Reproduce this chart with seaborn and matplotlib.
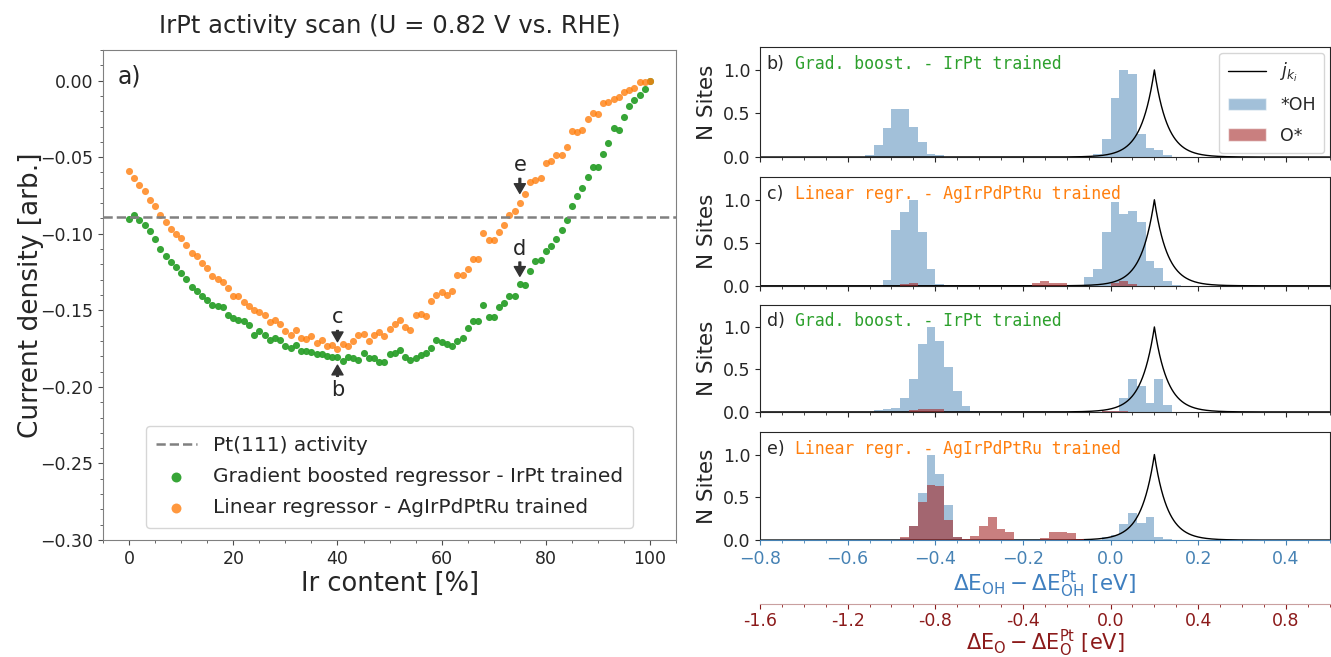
import numpy as np
import pandas as pd
import matplotlib
matplotlib.use("Agg")
import matplotlib.pyplot as plt
import seaborn as sns
from matplotlib.lines import Line2D
from matplotlib.patches import Patch
from matplotlib.ticker import MultipleLocator, FuncFormatter

sns.set_style("ticks")
plt.rcParams["font.family"] = ["DejaVu Sans"]

# ---------------- activity scan data ----------------
ir_content = list(range(101))
gb_current = [
    -0.0902, -0.0880, -0.0913, -0.0941, -0.0985, -0.1035, -0.1099, -0.1143, -0.1186, -0.1215,
    -0.1254, -0.1298, -0.1348, -0.1372, -0.1405, -0.1431, -0.1466, -0.1475, -0.1479, -0.1528,
    -0.1550, -0.1561, -0.1571, -0.1597, -0.1661, -0.1635, -0.1661, -0.1696, -0.1681, -0.1696,
    -0.1731, -0.1747, -0.1725, -0.1764, -0.1768, -0.1773, -0.1786, -0.1788, -0.1797, -0.1804,
    -0.1808, -0.1832, -0.1808, -0.1810, -0.1823, -0.1777, -0.1810, -0.1814, -0.1836, -0.1836,
    -0.1784, -0.1779, -0.1758, -0.1806, -0.1823, -0.1810, -0.1791, -0.1781, -0.1744, -0.1694,
    -0.1709, -0.1720, -0.1735, -0.1701, -0.1683, -0.1615, -0.1569, -0.1569, -0.1464, -0.1543,
    -0.1543, -0.1479, -0.1453, -0.1405, -0.1405, -0.1328, -0.1333, -0.1245, -0.1175, -0.1171,
    -0.1114, -0.1083, -0.1035, -0.0978, -0.0913, -0.0819, -0.0755, -0.0703, -0.0632, -0.0567,
    -0.0567, -0.0477, -0.0409, -0.0311, -0.0322, -0.0238, -0.0168, -0.0127, -0.0092, -0.0053,
    0.0,
]
lin_current = [
    -0.0589, -0.0639, -0.0683, -0.0723, -0.0779, -0.0821, -0.0880, -0.0921, -0.0972, -0.1000,
    -0.1026, -0.1075, -0.1127, -0.1147, -0.1188, -0.1226, -0.1274, -0.1298, -0.1313, -0.1353,
    -0.1407, -0.1407, -0.1449, -0.1469, -0.1495, -0.1508, -0.1532, -0.1574, -0.1561, -0.1587,
    -0.1635, -0.1660, -0.1626, -0.1679, -0.1685, -0.1668, -0.1712, -0.1692, -0.1733, -0.1727,
    -0.1755, -0.1718, -0.1736, -0.1701, -0.1659, -0.1653, -0.1703, -0.1661, -0.1642, -0.1666,
    -0.1622, -0.1589, -0.1563, -0.1611, -0.1630, -0.1530, -0.1521, -0.1539, -0.1436, -0.1403,
    -0.1381, -0.1403, -0.1372, -0.1272, -0.1272, -0.1230, -0.1162, -0.1162, -0.0996, -0.1039,
    -0.1039, -0.0987, -0.0941, -0.0878, -0.0854, -0.0797, -0.0738, -0.0665, -0.0646, -0.0635,
    -0.0538, -0.0527, -0.0488, -0.0488, -0.0431, -0.0330, -0.0337, -0.0322, -0.0254, -0.0212,
    -0.0219, -0.0146, -0.0138, -0.0123, -0.0107, -0.0077, -0.0059, -0.0046, -0.0009, -0.0009,
    0.0,
]
pt_activity = -0.089

# ---------------- adsorption energy distributions ----------------
# *OH: bin left edges (dE_OH, eV, width 0.02) and normalised site counts
oh_b_left = [-0.56, -0.54, -0.52, -0.50, -0.48, -0.46, -0.44, -0.42, -0.40,
             -0.04, -0.02, 0.00, 0.02, 0.04, 0.06, 0.08, 0.10, 0.12]
oh_b_n = [0.02, 0.135, 0.33, 0.555, 0.555, 0.35, 0.17, 0.04, 0.02,
          0.035, 0.21, 0.68, 1.0, 0.95, 0.27, 0.10, 0.08, 0.02]
oh_c_left = [-0.52, -0.50, -0.48, -0.46, -0.44, -0.42, -0.40,
             -0.06, -0.04, -0.02, 0.00, 0.02, 0.04, 0.06, 0.08, 0.10, 0.12, 0.14]
oh_c_n = [0.07, 0.65, 0.86, 1.0, 0.62, 0.19, 0.02,
          0.10, 0.20, 0.63, 0.97, 0.835, 0.87, 0.74, 0.29, 0.21, 0.06, 0.01]
oh_d_left = [-0.54, -0.52, -0.50, -0.48, -0.46, -0.44, -0.42, -0.40, -0.38, -0.36, -0.34, -0.32,
             -0.02, 0.00, 0.02, 0.04, 0.06, 0.08, 0.10, 0.12]
oh_d_n = [0.02, 0.04, 0.05, 0.16, 0.39, 0.80, 1.0, 0.83, 0.53, 0.25, 0.07, 0.01,
          0.01, 0.01, 0.165, 0.385, 0.31, 0.10, 0.39, 0.08]
oh_e_left = [-0.48, -0.46, -0.44, -0.42, -0.40, -0.38, -0.36,
             -0.02, 0.00, 0.02, 0.04, 0.06, 0.08, 0.10, 0.12]
oh_e_n = [0.02, 0.16, 0.55, 1.0, 0.77, 0.41, 0.03,
          0.03, 0.06, 0.19, 0.32, 0.20, 0.275, 0.04, 0.01]

# O*: bin left edges (dE_O, eV, width 0.04) and normalised site counts
o_b_left = []
o_b_n = []
o_c_left = [-0.96, -0.92, -0.36, -0.32, -0.28, -0.24, 0.00, 0.04, 0.08]
o_c_n = [0.02, 0.03, 0.03, 0.05, 0.03, 0.03, 0.03, 0.05, 0.02]
o_d_left = [-0.92, -0.88, -0.84, -0.80, -0.04, 0.00, 0.04]
o_d_n = [0.02, 0.03, 0.04, 0.04, 0.01, 0.01, 0.01]
o_e_left = [-0.96, -0.92, -0.88, -0.84, -0.80, -0.76, -0.72, -0.68, -0.64, -0.60, -0.56, -0.52,
            -0.48, -0.32, -0.28, -0.24, -0.20, -0.16]
o_e_n = [0.03, 0.16, 0.44, 0.64, 0.63, 0.23, 0.03, 0.01, 0.05, 0.16, 0.27, 0.125,
         0.09, 0.02, 0.09, 0.10, 0.08, 0.01]

panel_tags = ["b)", "c)", "d)", "e)"]
panel_models = ["Grad. boost. - IrPt trained", "Linear regr. - AgIrPdPtRu trained",
                "Grad. boost. - IrPt trained", "Linear regr. - AgIrPdPtRu trained"]

# optimum *OH binding relative to Pt(111) and thermal width of the activity kernel
de_opt = 0.10
kT = 0.03

GREEN = "#2ca02c"
ORANGE = "#ff7f0e"
OH_COLOR = "steelblue"
O_COLOR = "brown"
OH_LABEL_COLOR = "#3f7fbf"
O_LABEL_COLOR = "#8b1a1a"


def weighted_hist(ax, lefts, counts, binrange, binwidth, color, alpha):
    """Draw pre-binned counts as a histogram on a regular bin grid."""
    if not lefts:
        return
    df = pd.DataFrame({"energy": np.asarray(lefts, dtype=float) + binwidth / 2,
                       "count": np.asarray(counts, dtype=float)})
    sns.histplot(data=df, x="energy", weights="count", binrange=binrange,
                 binwidth=binwidth, color=color, alpha=alpha, linewidth=0, ax=ax)


fig = plt.figure(figsize=(13.31, 6.57), dpi=100)

# ---------------- panel a: activity scan ----------------
ax = fig.add_axes([0.0774, 0.178, 0.4306, 0.746])
ax.axhline(pt_activity, color="gray", ls="--", lw=1.8, label="Pt(111) activity")
sns.scatterplot(x=ir_content, y=gb_current, color=GREEN, s=26, linewidth=0, alpha=0.95,
                label="Gradient boosted regressor - IrPt trained", ax=ax)
sns.scatterplot(x=ir_content, y=lin_current, color=ORANGE, s=26, linewidth=0, alpha=0.8,
                label="Linear regressor - AgIrPdPtRu trained", ax=ax)
ax.set_xlim(-5, 105)
ax.set_ylim(-0.30, 0.02)
ax.yaxis.set_major_locator(MultipleLocator(0.05))
ax.yaxis.set_minor_locator(MultipleLocator(0.01))
ax.xaxis.set_major_locator(MultipleLocator(20))
ax.xaxis.set_minor_locator(MultipleLocator(5))
ax.yaxis.set_major_formatter(FuncFormatter(lambda v, p: f"{v:.2f}".replace("-", "\u2212")))
ax.tick_params(labelsize=12.5, color="0.3")
ax.tick_params(which="minor", color="0.3")
for s in ax.spines.values():
    s.set_color("0.5")
ax.set_xlabel("Ir content [%]", fontsize=18.5, labelpad=2)
ax.set_ylabel("Current density [arb.]", fontsize=19, labelpad=-3)
ax.set_title("IrPt activity scan (U = 0.82 V vs. RHE)", fontsize=17.5, pad=12)
ax.text(0.025, 0.97, "a)", transform=ax.transAxes, fontsize=17, va="top", ha="left")
ax.legend(loc="lower center", bbox_to_anchor=(0.5, 0.005), fontsize=14.5,
          markerscale=1.4, handlelength=2.0, borderpad=0.5, labelspacing=0.6)

arrow_kw = dict(facecolor="#333333", edgecolor="#333333", width=1.3, headwidth=8,
                headlength=7, shrink=0.0)
ax.annotate("c", xy=(40, lin_current[40] + 0.005), xytext=(40, lin_current[40] + 0.021),
            ha="center", va="center", fontsize=15, arrowprops=arrow_kw)
ax.annotate("b", xy=(40, gb_current[40] - 0.005), xytext=(40, gb_current[40] - 0.021),
            ha="center", va="center", fontsize=15, arrowprops=arrow_kw)
ax.annotate("d", xy=(75, gb_current[75] + 0.005), xytext=(75, gb_current[75] + 0.023),
            ha="center", va="center", fontsize=15, arrowprops=arrow_kw)
ax.annotate("e", xy=(75, lin_current[75] + 0.006), xytext=(75, lin_current[75] + 0.0245),
            ha="center", va="center", fontsize=15, arrowprops=arrow_kw)

# ---------------- panels b-e: energy distributions ----------------
e_grid = np.linspace(-0.8, 0.5, 1301)
j_k = np.exp(-np.abs(e_grid - de_opt) / kT)

oh_sets = [(oh_b_left, oh_b_n), (oh_c_left, oh_c_n), (oh_d_left, oh_d_n), (oh_e_left, oh_e_n)]
o_sets = [(o_b_left, o_b_n), (o_c_left, o_c_n), (o_d_left, o_d_n), (o_e_left, o_e_n)]
model_colors = [GREEN, ORANGE, GREEN, ORANGE]

right_left, right_w = 0.571, 0.428
tops = [0.928, 0.730, 0.536, 0.342]
heights = [0.167, 0.165, 0.163, 0.164]

for k in range(4):
    axh = fig.add_axes([right_left, tops[k] - heights[k], right_w, heights[k]])
    lefts, counts = oh_sets[k]
    sns.lineplot(x=e_grid, y=j_k, color="black", lw=1.0, ax=axh)
    weighted_hist(axh, lefts, counts, (-0.8, 0.5), 0.02, OH_COLOR, 0.5)
    axh.set_xlim(-0.8, 0.5)
    axh.set_ylim(0, 1.26)
    axh.yaxis.set_major_locator(MultipleLocator(0.5))
    axh.xaxis.set_major_locator(MultipleLocator(0.2))
    axh.xaxis.set_minor_locator(MultipleLocator(0.05))
    axh.tick_params(labelsize=12.5)
    axh.set_ylabel("N Sites", fontsize=15.5)
    axh.set_xlabel("")
    axh.text(0.012, 0.93, panel_tags[k], transform=axh.transAxes, fontsize=12.5,
             va="top", ha="left")
    axh.text(0.062, 0.93, panel_models[k], transform=axh.transAxes, fontsize=11.9,
             va="top", ha="left", family="DejaVu Sans Mono", color=model_colors[k])

    axo = axh.twiny()
    o_lefts, o_counts = o_sets[k]
    weighted_hist(axo, o_lefts, o_counts, (-1.6, 1.0), 0.04, O_COLOR, 0.6)
    axo.set_xlim(-1.6, 1.0)
    axo.set_ylim(0, 1.26)
    axo.set_xlabel("")
    axo.set_ylabel("")

    if k < 3:
        axh.tick_params(axis="x", labelbottom=False)
        axo.tick_params(axis="x", which="both", top=False, labeltop=False,
                        bottom=False, labelbottom=False)
        for s in axo.spines.values():
            s.set_visible(False)
    else:
        axh.spines["bottom"].set_color(OH_COLOR)
        axh.tick_params(axis="x", which="both", colors=OH_COLOR)
        axh.set_xlabel(r"$\Delta\mathrm{E}_{\mathrm{OH}} - \Delta\mathrm{E}_{\mathrm{OH}}^{\mathrm{Pt}}$ [eV]",
                       fontsize=15.5, color=OH_LABEL_COLOR, labelpad=1)
        axo.xaxis.set_ticks_position("bottom")
        axo.xaxis.set_label_position("bottom")
        for name, s in axo.spines.items():
            s.set_visible(name == "bottom")
        axo.spines["bottom"].set_position(("outward", 46))
        axo.spines["bottom"].set_color("#c9a0a0")
        axo.xaxis.set_major_locator(MultipleLocator(0.4))
        axo.xaxis.set_minor_locator(MultipleLocator(0.1))
        axo.xaxis.set_major_formatter(FuncFormatter(lambda v, p: f"{v:.1f}"))
        axo.tick_params(axis="x", which="both", colors=O_LABEL_COLOR, labelsize=12.5, pad=2)
        axo.set_xlabel(r"$\Delta\mathrm{E}_{\mathrm{O}} - \Delta\mathrm{E}_{\mathrm{O}}^{\mathrm{Pt}}$ [eV]",
                       fontsize=15, color=O_LABEL_COLOR, labelpad=-1)

    if k == 0:
        handles = [Line2D([], [], color="black", lw=1.0),
                   Patch(facecolor=OH_COLOR, alpha=0.5),
                   Patch(facecolor=O_COLOR, alpha=0.6)]
        axo.legend(handles, [r"$j_{k_i}$", "*OH", "O*"], loc="upper right",
                   fontsize=12.5, handlelength=2.2, borderpad=0.5, labelspacing=0.7,
                   borderaxespad=0.3)

fig.savefig("out.png", dpi=100)
